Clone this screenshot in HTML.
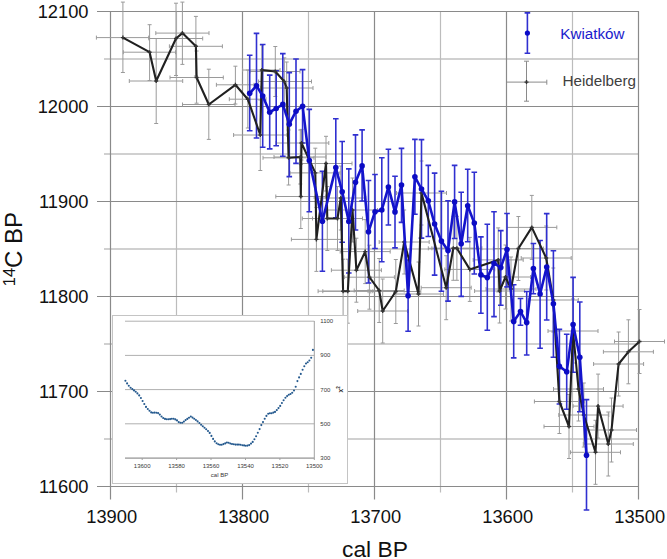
<!DOCTYPE html>
<html><head><meta charset="utf-8"><style>
html,body{margin:0;padding:0;background:#fff;}
body{width:667px;height:559px;overflow:hidden;position:relative;}
svg{position:absolute;left:0;top:0;}
text{font-family:"Liberation Sans",sans-serif;}
.tl{font-size:18.3px;fill:#111;}
.il{font-size:6px;fill:#383838;}
</style></head><body>
<svg width="667" height="559" viewBox="0 0 667 559">
<line x1="104" y1="59.0" x2="638.5" y2="59.0" stroke="#d0d0d0" stroke-width="2"/><line x1="104" y1="154.0" x2="638.5" y2="154.0" stroke="#d0d0d0" stroke-width="2"/><line x1="104" y1="249.0" x2="638.5" y2="249.0" stroke="#d0d0d0" stroke-width="2"/><line x1="104" y1="344.0" x2="638.5" y2="344.0" stroke="#d0d0d0" stroke-width="2"/><line x1="104" y1="439.0" x2="638.5" y2="439.0" stroke="#d0d0d0" stroke-width="2"/><line x1="176.5" y1="11" x2="176.5" y2="492.5" stroke="#bcbcbc" stroke-width="1.2"/><line x1="308.5" y1="11" x2="308.5" y2="492.5" stroke="#bcbcbc" stroke-width="1.2"/><line x1="440.5" y1="11" x2="440.5" y2="492.5" stroke="#bcbcbc" stroke-width="1.2"/><line x1="572.5" y1="11" x2="572.5" y2="492.5" stroke="#bcbcbc" stroke-width="1.2"/><line x1="97" y1="11.5" x2="638.5" y2="11.5" stroke="#8a8a8a" stroke-width="1.2"/><line x1="97" y1="106.5" x2="638.5" y2="106.5" stroke="#8a8a8a" stroke-width="1.2"/><line x1="97" y1="201.5" x2="638.5" y2="201.5" stroke="#8a8a8a" stroke-width="1.2"/><line x1="97" y1="296.5" x2="638.5" y2="296.5" stroke="#8a8a8a" stroke-width="1.2"/><line x1="97" y1="391.5" x2="638.5" y2="391.5" stroke="#8a8a8a" stroke-width="1.2"/><line x1="97" y1="486.5" x2="638.5" y2="486.5" stroke="#8a8a8a" stroke-width="1.2"/><line x1="110.5" y1="11" x2="110.5" y2="499.5" stroke="#8a8a8a" stroke-width="1.2"/><line x1="242.5" y1="11" x2="242.5" y2="499.5" stroke="#8a8a8a" stroke-width="1.2"/><line x1="374.5" y1="11" x2="374.5" y2="499.5" stroke="#8a8a8a" stroke-width="1.2"/><line x1="506.5" y1="11" x2="506.5" y2="499.5" stroke="#8a8a8a" stroke-width="1.2"/><line x1="638.5" y1="11" x2="638.5" y2="499.5" stroke="#8a8a8a" stroke-width="1.2"/><text x="88.5" y="17.5" text-anchor="end" class="tl">12100</text><text x="88.5" y="112.5" text-anchor="end" class="tl">12000</text><text x="88.5" y="207.5" text-anchor="end" class="tl">11900</text><text x="88.5" y="302.5" text-anchor="end" class="tl">11800</text><text x="88.5" y="397.5" text-anchor="end" class="tl">11700</text><text x="88.5" y="492.5" text-anchor="end" class="tl">11600</text><text x="111.7" y="523.3" text-anchor="middle" class="tl">13900</text><text x="243.7" y="523.3" text-anchor="middle" class="tl">13800</text><text x="375.7" y="523.3" text-anchor="middle" class="tl">13700</text><text x="507.7" y="523.3" text-anchor="middle" class="tl">13600</text><text x="639.7" y="523.3" text-anchor="middle" class="tl">13500</text><path d="M122.9 2.1V72.5M120.9 2.1h4M120.9 72.5h4M96.4 37.6H148.7M96.4 35.6v4M148.7 35.6v4M149.6 24.7V80.5M147.6 24.7h4M147.6 80.5h4M123.3 52.2H175.5M123.3 50.2v4M175.5 50.2v4M156.2 38.5V123.5M154.2 38.5h4M154.2 123.5h4M129.3 81.0H182.7M129.3 79.0v4M182.7 79.0v4M176.0 3.2V75.5M174.0 3.2h4M174.0 75.5h4M149.0 38.5H202.7M149.0 36.5v4M202.7 36.5v4M182.4 2.1V64.4M180.4 2.1h4M180.4 64.4h4M155.8 33.1H209.0M155.8 31.1v4M209.0 31.1v4M195.9 16.4V76.0M193.9 16.4h4M193.9 76.0h4M169.4 46.3H222.4M169.4 44.3v4M222.4 44.3v4M196.6 51.0V103.2M194.6 51.0h4M194.6 103.2h4M170.0 77.5H223.3M170.0 75.5v4M223.3 75.5v4M208.8 69.2V139.4M206.8 69.2h4M206.8 139.4h4M182.5 104.5H235.0M182.5 102.5v4M235.0 102.5v4M235.4 66.2V104.0M233.4 66.2h4M233.4 104.0h4M216.4 84.8H254.0M216.4 82.8v4M254.0 82.8v4M247.8 70.0V128.0M245.8 70.0h4M245.8 128.0h4M229.3 99.2H266.0M229.3 97.2v4M266.0 97.2v4M260.3 100.0V170.5M258.3 100.0h4M258.3 170.5h4M233.6 135.0H287.0M233.6 133.0v4M287.0 133.0v4M261.8 45.0V95.0M259.8 45.0h4M259.8 95.0h4M242.6 70.0H280.0M242.6 68.0v4M280.0 68.0v4M275.3 46.5V96.5M273.3 46.5h4M273.3 96.5h4M250.0 71.5H300.0M250.0 69.5v4M300.0 69.5v4M284.3 57.9V106.0M282.3 57.9h4M282.3 106.0h4M258.6 81.5H311.5M258.6 79.5v4M311.5 79.5v4M286.7 62.0V114.0M284.7 62.0h4M284.7 114.0h4M261.0 88.0H313.0M261.0 86.0v4M313.0 86.0v4M288.6 130.0V185.0M286.6 130.0h4M286.6 185.0h4M263.0 157.8H314.0M263.0 155.8v4M314.0 155.8v4M300.3 130.0V184.0M298.3 130.0h4M298.3 184.0h4M274.0 157.0H326.0M274.0 155.0v4M326.0 155.0v4M300.8 164.5V228.5M298.8 164.5h4M298.8 228.5h4M275.8 196.5H325.8M275.8 194.5v4M325.8 194.5v4M301.5 129.4V160.0M299.5 129.4h4M299.5 160.0h4M276.0 143.0H328.8M276.0 141.0v4M328.8 141.0v4M315.3 148.2V198.0M313.3 148.2h4M313.3 198.0h4M290.0 172.9H340.0M290.0 170.9v4M340.0 170.9v4M316.4 207.4V271.4M314.4 207.4h4M314.4 271.4h4M291.4 239.4H341.4M291.4 237.4v4M341.4 237.4v4M326.0 136.3V191.0M324.0 136.3h4M324.0 191.0h4M300.0 163.5H352.0M300.0 161.5v4M352.0 161.5v4M327.3 186.5V250.5M325.3 186.5h4M325.3 250.5h4M302.3 218.5H352.3M302.3 216.5v4M352.3 216.5v4M337.5 186.5V250.5M335.5 186.5h4M335.5 250.5h4M312.5 218.5H362.5M312.5 216.5v4M362.5 216.5v4M340.8 166.0V230.0M338.8 166.0h4M338.8 230.0h4M315.8 198.0H365.8M315.8 196.0v4M365.8 196.0v4M343.1 259.2V323.2M341.1 259.2h4M341.1 323.2h4M318.1 291.2H368.1M318.1 289.2v4M368.1 289.2v4M347.8 259.2V323.2M345.8 259.2h4M345.8 323.2h4M322.8 291.2H372.8M322.8 289.2v4M372.8 289.2v4M352.5 178.0V242.0M350.5 178.0h4M350.5 242.0h4M327.5 210.0H377.5M327.5 208.0v4M377.5 208.0v4M356.4 238.2V302.2M354.4 238.2h4M354.4 302.2h4M331.4 270.2H381.4M331.4 268.2v4M381.4 268.2v4M365.2 219.6V283.6M363.2 219.6h4M363.2 283.6h4M340.2 251.6H390.2M340.2 249.6v4M390.2 249.6v4M369.4 245.2V309.2M367.4 245.2h4M367.4 309.2h4M344.4 277.2H394.4M344.4 275.2v4M394.4 275.2v4M379.2 258.5V322.5M377.2 258.5h4M377.2 322.5h4M354.2 290.5H404.2M354.2 288.5v4M404.2 288.5v4M382.7 279.0V343.0M380.7 279.0h4M380.7 343.0h4M357.7 311.0H407.7M357.7 309.0v4M407.7 309.0v4M395.8 259.5V323.5M393.8 259.5h4M393.8 323.5h4M370.8 291.5H420.8M370.8 289.5v4M420.8 289.5v4M404.2 210.0V274.0M402.2 210.0h4M402.2 274.0h4M379.2 242.0H429.2M379.2 240.0v4M429.2 240.0v4M418.5 262.0V326.0M416.5 262.0h4M416.5 326.0h4M393.5 294.0H443.5M393.5 292.0v4M443.5 292.0v4M421.5 161.0V225.0M419.5 161.0h4M419.5 225.0h4M396.5 193.0H446.5M396.5 191.0v4M446.5 191.0v4M446.2 255.7V319.7M444.2 255.7h4M444.2 319.7h4M421.2 287.7H471.2M421.2 285.7v4M471.2 285.7v4M453.3 216.3V280.3M451.3 216.3h4M451.3 280.3h4M428.3 248.3H478.3M428.3 246.3v4M478.3 246.3v4M456.9 216.3V280.3M454.9 216.3h4M454.9 280.3h4M431.9 248.3H481.9M431.9 246.3v4M481.9 246.3v4M469.8 237.4V301.4M467.8 237.4h4M467.8 301.4h4M444.8 269.4H494.8M444.8 267.4v4M494.8 267.4v4M498.2 227.9V291.9M496.2 227.9h4M496.2 291.9h4M473.2 259.9H523.2M473.2 257.9v4M523.2 257.9v4M499.6 259.0V323.0M497.6 259.0h4M497.6 323.0h4M474.6 291.0H524.6M474.6 289.0v4M524.6 289.0v4M505.5 245.0V309.0M503.5 245.0h4M503.5 309.0h4M480.5 277.0H530.5M480.5 275.0v4M530.5 275.0v4M511.0 257.0V321.0M509.0 257.0h4M509.0 321.0h4M486.0 289.0H536.0M486.0 287.0v4M536.0 287.0v4M518.4 216.5V280.5M516.4 216.5h4M516.4 280.5h4M493.4 248.5H543.4M493.4 246.5v4M543.4 246.5v4M531.8 195.4V259.4M529.8 195.4h4M529.8 259.4h4M506.8 227.4H556.8M506.8 225.4v4M556.8 225.4v4M546.2 226.0V290.0M544.2 226.0h4M544.2 290.0h4M521.2 258.0H571.2M521.2 256.0v4M571.2 256.0v4M553.3 268.0V332.0M551.3 268.0h4M551.3 332.0h4M528.3 300.0H578.3M528.3 298.0v4M578.3 298.0v4M559.4 369.5V433.5M557.4 369.5h4M557.4 433.5h4M534.4 401.5H584.4M534.4 399.5v4M584.4 399.5v4M569.0 394.5V458.5M567.0 394.5h4M567.0 458.5h4M544.0 426.5H594.0M544.0 424.5v4M594.0 424.5v4M573.0 299.0V363.0M571.0 299.0h4M571.0 363.0h4M548.0 331.0H598.0M548.0 329.0v4M598.0 329.0v4M578.5 357.0V421.0M576.5 357.0h4M576.5 421.0h4M553.5 389.0H603.5M553.5 387.0v4M603.5 387.0v4M583.8 383.0V447.0M581.8 383.0h4M581.8 447.0h4M558.8 415.0H608.8M558.8 413.0v4M608.8 413.0v4M595.5 420.3V484.3M593.5 420.3h4M593.5 484.3h4M570.5 452.3H620.5M570.5 450.3v4M620.5 450.3v4M598.1 374.1V438.1M596.1 374.1h4M596.1 438.1h4M573.1 406.1H623.1M573.1 404.1v4M623.1 404.1v4M608.3 412.0V476.0M606.3 412.0h4M606.3 476.0h4M583.3 444.0H633.3M583.3 442.0v4M633.3 442.0v4M611.5 398.0V462.0M609.5 398.0h4M609.5 462.0h4M586.5 430.0H636.5M586.5 428.0v4M636.5 428.0v4M618.6 332.0V396.0M616.6 332.0h4M616.6 396.0h4M593.6 364.0H643.6M593.6 362.0v4M643.6 362.0v4M628.4 319.8V383.8M626.4 319.8h4M626.4 383.8h4M603.4 351.8H653.4M603.4 349.8v4M653.4 349.8v4M639.5 309.5V373.5M637.5 309.5h4M637.5 373.5h4M614.5 341.5H664.5M614.5 339.5v4M664.5 339.5v4" stroke="#9a9a9a" stroke-width="1" fill="none"/><path d="M249.7 55.2V130.7M246.9 55.2h5.6M246.9 130.7h5.6M256.5 33.4V138.0M253.7 33.4h5.6M253.7 138.0h5.6M262.7 44.5V147.2M259.9 44.5h5.6M259.9 147.2h5.6M269.7 75.1V148.9M266.9 75.1h5.6M266.9 148.9h5.6M276.2 70.8V145.7M273.4 70.8h5.6M273.4 145.7h5.6M282.8 53.6V156.2M280.0 53.6h5.6M280.0 156.2h5.6M289.3 72.6V176.6M286.5 72.6h5.6M286.5 176.6h5.6M296.0 59.0V163.4M293.2 59.0h5.6M293.2 163.4h5.6M302.6 69.6V143.0M299.8 69.6h5.6M299.8 143.0h5.6M309.3 109.4V211.7M306.5 109.4h5.6M306.5 211.7h5.6M322.4 171.2V271.2M319.6 171.2h5.6M319.6 271.2h5.6M335.8 118.8V217.9M333.0 118.8h5.6M333.0 217.9h5.6M342.2 141.5V242.3M339.4 141.5h5.6M339.4 242.3h5.6M348.8 168.9V273.0M346.0 168.9h5.6M346.0 273.0h5.6M355.5 134.9V230.0M352.7 134.9h5.6M352.7 230.0h5.6M362.1 129.9V201.0M359.3 129.9h5.6M359.3 201.0h5.6M368.5 180.5V283.0M365.7 180.5h5.6M365.7 283.0h5.6M375.0 174.5V248.5M372.2 174.5h5.6M372.2 248.5h5.6M381.8 157.8V261.7M379.0 157.8h5.6M379.0 261.7h5.6M388.4 149.3V225.0M385.6 149.3h5.6M385.6 225.0h5.6M395.0 176.3V247.9M392.2 176.3h5.6M392.2 247.9h5.6M401.5 148.4V222.4M398.7 148.4h5.6M398.7 222.4h5.6M408.1 260.0V331.2M405.3 260.0h5.6M405.3 331.2h5.6M414.9 139.4V214.3M412.1 139.4h5.6M412.1 214.3h5.6M421.5 139.6V238.1M418.7 139.6h5.6M418.7 238.1h5.6M428.3 165.4V236.5M425.5 165.4h5.6M425.5 236.5h5.6M434.6 173.1V275.1M431.8 173.1h5.6M431.8 275.1h5.6M441.4 191.3V291.2M438.6 191.3h5.6M438.6 291.2h5.6M448.0 200.8V301.1M445.2 200.8h5.6M445.2 301.1h5.6M454.6 165.4V238.5M451.8 165.4h5.6M451.8 238.5h5.6M461.2 192.2V296.4M458.4 192.2h5.6M458.4 296.4h5.6M467.7 169.2V241.7M464.9 169.2h5.6M464.9 241.7h5.6M474.3 172.2V274.0M471.5 172.2h5.6M471.5 274.0h5.6M480.9 236.9V313.3M478.1 236.9h5.6M478.1 313.3h5.6M487.3 224.2V330.3M484.5 224.2h5.6M484.5 330.3h5.6M494.0 211.8V316.6M491.2 211.8h5.6M491.2 316.6h5.6M500.8 230.6V305.3M498.0 230.6h5.6M498.0 305.3h5.6M507.0 213.5V286.9M504.2 213.5h5.6M504.2 286.9h5.6M513.7 284.7V357.9M510.9 284.7h5.6M510.9 357.9h5.6M520.5 298.5V325.3M517.7 298.5h5.6M517.7 325.3h5.6M526.7 291.5V355.0M523.9 291.5h5.6M523.9 355.0h5.6M533.4 243.5V293.7M530.6 243.5h5.6M530.6 293.7h5.6M540.1 240.5V348.2M537.3 240.5h5.6M537.3 348.2h5.6M546.7 213.6V320.0M543.9 213.6h5.6M543.9 320.0h5.6M553.4 250.7V357.2M550.6 250.7h5.6M550.6 357.2h5.6M559.4 329.4V404.0M556.6 329.4h5.6M556.6 404.0h5.6M566.7 334.2V409.3M563.9 334.2h5.6M563.9 409.3h5.6M573.1 277.4V372.2M570.3 277.4h5.6M570.3 372.2h5.6M579.8 302.0V411.8M577.0 302.0h5.6M577.0 411.8h5.6M586.5 399.6V510.0M583.7 399.6h5.6M583.7 510.0h5.6" stroke="#3030d0" stroke-width="1.6" fill="none"/><polyline points="122.9,37.6 149.6,52.2 156.2,81.0 176.0,38.5 182.4,33.1 195.9,46.3 196.6,77.5 208.8,104.5 235.4,84.8 247.8,99.2 260.3,135.0 261.8,70.0 275.3,71.5 284.3,81.5 286.7,88.0 288.6,157.8 300.3,157.0 300.8,196.5 301.5,143.0 315.3,172.9 316.4,239.4 326.0,163.5 327.3,218.5 337.5,218.5 340.8,198.0 343.1,291.2 347.8,291.2 352.5,210.0 356.4,270.2 365.2,251.6 369.4,277.2 379.2,290.5 382.7,311.0 395.8,291.5 404.2,242.0 418.5,294.0 421.5,193.0 446.2,287.7 453.3,248.3 456.9,248.3 469.8,269.4 498.2,259.9 499.6,291.0 505.5,277.0 511.0,289.0 518.4,248.5 531.8,227.4 546.2,258.0 553.3,300.0 559.4,401.5 569.0,426.5 573.0,331.0 578.5,389.0 583.8,415.0 595.5,452.3 598.1,406.1 608.3,444.0 611.5,430.0 618.6,364.0 628.4,351.8 639.5,341.5" stroke="#202020" stroke-width="2.1" fill="none" stroke-linejoin="round"/><path d="M120.9 37.6h4M122.9 35.6v4M147.6 52.2h4M149.6 50.2v4M154.2 81.0h4M156.2 79.0v4M174.0 38.5h4M176.0 36.5v4M180.4 33.1h4M182.4 31.1v4M193.9 46.3h4M195.9 44.3v4M194.6 77.5h4M196.6 75.5v4M206.8 104.5h4M208.8 102.5v4M233.4 84.8h4M235.4 82.8v4M245.8 99.2h4M247.8 97.2v4M258.3 135.0h4M260.3 133.0v4M259.8 70.0h4M261.8 68.0v4M273.3 71.5h4M275.3 69.5v4M282.3 81.5h4M284.3 79.5v4M284.7 88.0h4M286.7 86.0v4M286.6 157.8h4M288.6 155.8v4M298.3 157.0h4M300.3 155.0v4M298.8 196.5h4M300.8 194.5v4M299.5 143.0h4M301.5 141.0v4M313.3 172.9h4M315.3 170.9v4M314.4 239.4h4M316.4 237.4v4M324.0 163.5h4M326.0 161.5v4M325.3 218.5h4M327.3 216.5v4M335.5 218.5h4M337.5 216.5v4M338.8 198.0h4M340.8 196.0v4M341.1 291.2h4M343.1 289.2v4M345.8 291.2h4M347.8 289.2v4M350.5 210.0h4M352.5 208.0v4M354.4 270.2h4M356.4 268.2v4M363.2 251.6h4M365.2 249.6v4M367.4 277.2h4M369.4 275.2v4M377.2 290.5h4M379.2 288.5v4M380.7 311.0h4M382.7 309.0v4M393.8 291.5h4M395.8 289.5v4M402.2 242.0h4M404.2 240.0v4M416.5 294.0h4M418.5 292.0v4M419.5 193.0h4M421.5 191.0v4M444.2 287.7h4M446.2 285.7v4M451.3 248.3h4M453.3 246.3v4M454.9 248.3h4M456.9 246.3v4M467.8 269.4h4M469.8 267.4v4M496.2 259.9h4M498.2 257.9v4M497.6 291.0h4M499.6 289.0v4M503.5 277.0h4M505.5 275.0v4M509.0 289.0h4M511.0 287.0v4M516.4 248.5h4M518.4 246.5v4M529.8 227.4h4M531.8 225.4v4M544.2 258.0h4M546.2 256.0v4M551.3 300.0h4M553.3 298.0v4M557.4 401.5h4M559.4 399.5v4M567.0 426.5h4M569.0 424.5v4M571.0 331.0h4M573.0 329.0v4M576.5 389.0h4M578.5 387.0v4M581.8 415.0h4M583.8 413.0v4M593.5 452.3h4M595.5 450.3v4M596.1 406.1h4M598.1 404.1v4M606.3 444.0h4M608.3 442.0v4M609.5 430.0h4M611.5 428.0v4M616.6 364.0h4M618.6 362.0v4M626.4 351.8h4M628.4 349.8v4M637.5 341.5h4M639.5 339.5v4" stroke="#333" stroke-width="1.4"/><polyline points="249.7,93.3 256.5,85.7 262.7,96.0 269.7,112.2 276.2,108.5 282.8,104.4 289.3,124.2 296.0,111.2 302.6,106.2 309.3,160.6 322.4,221.2 335.8,167.6 342.2,191.7 348.8,221.5 355.5,182.2 362.1,165.9 368.5,231.8 375.0,211.7 381.8,210.0 388.4,187.1 395.0,211.9 401.5,185.1 408.1,295.7 414.9,176.8 421.5,189.0 428.3,200.8 434.6,224.0 441.4,241.1 448.0,250.6 454.6,201.9 461.2,243.8 467.7,205.8 474.3,223.1 480.9,274.8 487.3,277.6 494.0,263.2 500.8,267.6 507.0,249.5 513.7,321.4 520.5,311.6 526.7,322.6 533.4,268.6 540.1,294.0 546.7,267.0 553.4,303.7 559.4,366.2 566.7,371.8 573.1,324.6 579.8,357.2 586.5,455.3" stroke="#1414cc" stroke-width="2.6" fill="none" stroke-linejoin="round"/><circle cx="249.7" cy="93.3" r="2.8" fill="#0c0cc4"/><circle cx="256.5" cy="85.7" r="2.8" fill="#0c0cc4"/><circle cx="262.7" cy="96.0" r="2.8" fill="#0c0cc4"/><circle cx="269.7" cy="112.2" r="2.8" fill="#0c0cc4"/><circle cx="276.2" cy="108.5" r="2.8" fill="#0c0cc4"/><circle cx="282.8" cy="104.4" r="2.8" fill="#0c0cc4"/><circle cx="289.3" cy="124.2" r="2.8" fill="#0c0cc4"/><circle cx="296.0" cy="111.2" r="2.8" fill="#0c0cc4"/><circle cx="302.6" cy="106.2" r="2.8" fill="#0c0cc4"/><circle cx="309.3" cy="160.6" r="2.8" fill="#0c0cc4"/><circle cx="322.4" cy="221.2" r="2.8" fill="#0c0cc4"/><circle cx="335.8" cy="167.6" r="2.8" fill="#0c0cc4"/><circle cx="342.2" cy="191.7" r="2.8" fill="#0c0cc4"/><circle cx="348.8" cy="221.5" r="2.8" fill="#0c0cc4"/><circle cx="355.5" cy="182.2" r="2.8" fill="#0c0cc4"/><circle cx="362.1" cy="165.9" r="2.8" fill="#0c0cc4"/><circle cx="368.5" cy="231.8" r="2.8" fill="#0c0cc4"/><circle cx="375.0" cy="211.7" r="2.8" fill="#0c0cc4"/><circle cx="381.8" cy="210.0" r="2.8" fill="#0c0cc4"/><circle cx="388.4" cy="187.1" r="2.8" fill="#0c0cc4"/><circle cx="395.0" cy="211.9" r="2.8" fill="#0c0cc4"/><circle cx="401.5" cy="185.1" r="2.8" fill="#0c0cc4"/><circle cx="408.1" cy="295.7" r="2.8" fill="#0c0cc4"/><circle cx="414.9" cy="176.8" r="2.8" fill="#0c0cc4"/><circle cx="421.5" cy="189.0" r="2.8" fill="#0c0cc4"/><circle cx="428.3" cy="200.8" r="2.8" fill="#0c0cc4"/><circle cx="434.6" cy="224.0" r="2.8" fill="#0c0cc4"/><circle cx="441.4" cy="241.1" r="2.8" fill="#0c0cc4"/><circle cx="448.0" cy="250.6" r="2.8" fill="#0c0cc4"/><circle cx="454.6" cy="201.9" r="2.8" fill="#0c0cc4"/><circle cx="461.2" cy="243.8" r="2.8" fill="#0c0cc4"/><circle cx="467.7" cy="205.8" r="2.8" fill="#0c0cc4"/><circle cx="474.3" cy="223.1" r="2.8" fill="#0c0cc4"/><circle cx="480.9" cy="274.8" r="2.8" fill="#0c0cc4"/><circle cx="487.3" cy="277.6" r="2.8" fill="#0c0cc4"/><circle cx="494.0" cy="263.2" r="2.8" fill="#0c0cc4"/><circle cx="500.8" cy="267.6" r="2.8" fill="#0c0cc4"/><circle cx="507.0" cy="249.5" r="2.8" fill="#0c0cc4"/><circle cx="513.7" cy="321.4" r="2.8" fill="#0c0cc4"/><circle cx="520.5" cy="311.6" r="2.8" fill="#0c0cc4"/><circle cx="526.7" cy="322.6" r="2.8" fill="#0c0cc4"/><circle cx="533.4" cy="268.6" r="2.8" fill="#0c0cc4"/><circle cx="540.1" cy="294.0" r="2.8" fill="#0c0cc4"/><circle cx="546.7" cy="267.0" r="2.8" fill="#0c0cc4"/><circle cx="553.4" cy="303.7" r="2.8" fill="#0c0cc4"/><circle cx="559.4" cy="366.2" r="2.8" fill="#0c0cc4"/><circle cx="566.7" cy="371.8" r="2.8" fill="#0c0cc4"/><circle cx="573.1" cy="324.6" r="2.8" fill="#0c0cc4"/><circle cx="579.8" cy="357.2" r="2.8" fill="#0c0cc4"/><circle cx="586.5" cy="455.3" r="2.8" fill="#0c0cc4"/>
<rect x="112.5" y="315.5" width="235" height="168" fill="#fff" stroke="#c4c4c4" stroke-width="1"/><line x1="125" y1="321.2" x2="314.3" y2="321.2" stroke="#b0b0b0" stroke-width="1"/><line x1="125" y1="355.4" x2="314.3" y2="355.4" stroke="#b0b0b0" stroke-width="1"/><line x1="125" y1="389.6" x2="314.3" y2="389.6" stroke="#b0b0b0" stroke-width="1"/><line x1="125" y1="423.8" x2="314.3" y2="423.8" stroke="#b0b0b0" stroke-width="1"/><line x1="125" y1="458.0" x2="314.3" y2="458.0" stroke="#b0b0b0" stroke-width="1"/><line x1="314.3" y1="321" x2="314.3" y2="458" stroke="#a0a0a0" stroke-width="1"/><line x1="125" y1="458.2" x2="314.3" y2="458.2" stroke="#a0a0a0" stroke-width="1"/><text x="320.3" y="323.2" class="il">1100</text><text x="320.3" y="357.4" class="il">900</text><text x="320.3" y="391.6" class="il">700</text><text x="320.3" y="425.8" class="il">500</text><text x="320.3" y="460.0" class="il">300</text><line x1="142.2" y1="458" x2="142.2" y2="460" stroke="#a0a0a0" stroke-width="1"/><text x="142.2" y="468.2" text-anchor="middle" class="il">13600</text><line x1="176.6" y1="458" x2="176.6" y2="460" stroke="#a0a0a0" stroke-width="1"/><text x="176.6" y="468.2" text-anchor="middle" class="il">13580</text><line x1="211.0" y1="458" x2="211.0" y2="460" stroke="#a0a0a0" stroke-width="1"/><text x="211.0" y="468.2" text-anchor="middle" class="il">13560</text><line x1="245.5" y1="458" x2="245.5" y2="460" stroke="#a0a0a0" stroke-width="1"/><text x="245.5" y="468.2" text-anchor="middle" class="il">13540</text><line x1="279.9" y1="458" x2="279.9" y2="460" stroke="#a0a0a0" stroke-width="1"/><text x="279.9" y="468.2" text-anchor="middle" class="il">13520</text><line x1="314.3" y1="458" x2="314.3" y2="460" stroke="#a0a0a0" stroke-width="1"/><text x="314.3" y="468.2" text-anchor="middle" class="il">13500</text><text x="219.5" y="477.3" text-anchor="middle" class="il">cal BP</text><text transform="translate(341.9,392.4) rotate(-90)" style="font-size:6.2px;fill:#222;font-weight:bold">χ<tspan style="font-size:4.6px" dy="-2.2">2</tspan></text><circle fill="#24598e" cx="125.4" cy="380.8" r="1.05"/><circle fill="#24598e" cx="127.1" cy="383.4" r="1.05"/><circle fill="#24598e" cx="128.8" cy="385.7" r="1.05"/><circle fill="#24598e" cx="130.6" cy="387.7" r="1.05"/><circle fill="#24598e" cx="132.3" cy="389.1" r="1.05"/><circle fill="#24598e" cx="134.0" cy="390.4" r="1.05"/><circle fill="#24598e" cx="135.7" cy="391.8" r="1.05"/><circle fill="#24598e" cx="137.4" cy="393.4" r="1.05"/><circle fill="#24598e" cx="139.2" cy="395.4" r="1.05"/><circle fill="#24598e" cx="140.9" cy="398.0" r="1.05"/><circle fill="#24598e" cx="142.6" cy="401.0" r="1.05"/><circle fill="#24598e" cx="144.3" cy="404.0" r="1.05"/><circle fill="#24598e" cx="146.0" cy="406.9" r="1.05"/><circle fill="#24598e" cx="147.8" cy="409.0" r="1.05"/><circle fill="#24598e" cx="149.5" cy="410.8" r="1.05"/><circle fill="#24598e" cx="151.2" cy="412.4" r="1.05"/><circle fill="#24598e" cx="152.9" cy="412.8" r="1.05"/><circle fill="#24598e" cx="154.6" cy="412.6" r="1.05"/><circle fill="#24598e" cx="156.4" cy="412.8" r="1.05"/><circle fill="#24598e" cx="158.1" cy="413.1" r="1.05"/><circle fill="#24598e" cx="159.8" cy="414.6" r="1.05"/><circle fill="#24598e" cx="161.5" cy="416.5" r="1.05"/><circle fill="#24598e" cx="163.2" cy="418.0" r="1.05"/><circle fill="#24598e" cx="165.0" cy="418.9" r="1.05"/><circle fill="#24598e" cx="166.7" cy="419.2" r="1.05"/><circle fill="#24598e" cx="168.4" cy="419.2" r="1.05"/><circle fill="#24598e" cx="170.1" cy="419.1" r="1.05"/><circle fill="#24598e" cx="171.8" cy="418.8" r="1.05"/><circle fill="#24598e" cx="173.6" cy="418.7" r="1.05"/><circle fill="#24598e" cx="175.3" cy="419.4" r="1.05"/><circle fill="#24598e" cx="177.0" cy="420.4" r="1.05"/><circle fill="#24598e" cx="178.7" cy="422.1" r="1.05"/><circle fill="#24598e" cx="180.4" cy="422.8" r="1.05"/><circle fill="#24598e" cx="182.2" cy="422.8" r="1.05"/><circle fill="#24598e" cx="183.9" cy="421.6" r="1.05"/><circle fill="#24598e" cx="185.6" cy="420.1" r="1.05"/><circle fill="#24598e" cx="187.3" cy="418.9" r="1.05"/><circle fill="#24598e" cx="189.0" cy="417.7" r="1.05"/><circle fill="#24598e" cx="190.8" cy="416.5" r="1.05"/><circle fill="#24598e" cx="192.5" cy="417.6" r="1.05"/><circle fill="#24598e" cx="194.2" cy="418.7" r="1.05"/><circle fill="#24598e" cx="195.9" cy="420.0" r="1.05"/><circle fill="#24598e" cx="197.6" cy="421.4" r="1.05"/><circle fill="#24598e" cx="199.4" cy="423.0" r="1.05"/><circle fill="#24598e" cx="201.1" cy="424.7" r="1.05"/><circle fill="#24598e" cx="202.8" cy="426.3" r="1.05"/><circle fill="#24598e" cx="204.5" cy="427.7" r="1.05"/><circle fill="#24598e" cx="206.2" cy="429.2" r="1.05"/><circle fill="#24598e" cx="208.0" cy="431.0" r="1.05"/><circle fill="#24598e" cx="209.7" cy="432.9" r="1.05"/><circle fill="#24598e" cx="211.4" cy="435.9" r="1.05"/><circle fill="#24598e" cx="213.1" cy="438.9" r="1.05"/><circle fill="#24598e" cx="214.8" cy="441.4" r="1.05"/><circle fill="#24598e" cx="216.6" cy="443.2" r="1.05"/><circle fill="#24598e" cx="218.3" cy="444.2" r="1.05"/><circle fill="#24598e" cx="220.0" cy="444.7" r="1.05"/><circle fill="#24598e" cx="221.7" cy="444.7" r="1.05"/><circle fill="#24598e" cx="223.4" cy="444.1" r="1.05"/><circle fill="#24598e" cx="225.2" cy="443.4" r="1.05"/><circle fill="#24598e" cx="226.9" cy="442.5" r="1.05"/><circle fill="#24598e" cx="228.6" cy="442.7" r="1.05"/><circle fill="#24598e" cx="230.3" cy="443.5" r="1.05"/><circle fill="#24598e" cx="232.0" cy="444.0" r="1.05"/><circle fill="#24598e" cx="233.8" cy="444.3" r="1.05"/><circle fill="#24598e" cx="235.5" cy="444.6" r="1.05"/><circle fill="#24598e" cx="237.2" cy="444.6" r="1.05"/><circle fill="#24598e" cx="238.9" cy="444.6" r="1.05"/><circle fill="#24598e" cx="240.6" cy="444.8" r="1.05"/><circle fill="#24598e" cx="242.4" cy="445.2" r="1.05"/><circle fill="#24598e" cx="244.1" cy="445.4" r="1.05"/><circle fill="#24598e" cx="245.8" cy="445.7" r="1.05"/><circle fill="#24598e" cx="247.5" cy="445.6" r="1.05"/><circle fill="#24598e" cx="249.2" cy="445.1" r="1.05"/><circle fill="#24598e" cx="251.0" cy="443.6" r="1.05"/><circle fill="#24598e" cx="252.7" cy="441.9" r="1.05"/><circle fill="#24598e" cx="254.4" cy="439.3" r="1.05"/><circle fill="#24598e" cx="256.1" cy="436.2" r="1.05"/><circle fill="#24598e" cx="257.8" cy="432.7" r="1.05"/><circle fill="#24598e" cx="259.6" cy="429.1" r="1.05"/><circle fill="#24598e" cx="261.3" cy="425.1" r="1.05"/><circle fill="#24598e" cx="263.0" cy="422.1" r="1.05"/><circle fill="#24598e" cx="264.7" cy="418.8" r="1.05"/><circle fill="#24598e" cx="266.4" cy="415.9" r="1.05"/><circle fill="#24598e" cx="268.2" cy="413.8" r="1.05"/><circle fill="#24598e" cx="269.9" cy="413.2" r="1.05"/><circle fill="#24598e" cx="271.6" cy="413.2" r="1.05"/><circle fill="#24598e" cx="273.3" cy="412.6" r="1.05"/><circle fill="#24598e" cx="275.0" cy="411.9" r="1.05"/><circle fill="#24598e" cx="276.8" cy="410.1" r="1.05"/><circle fill="#24598e" cx="278.5" cy="408.1" r="1.05"/><circle fill="#24598e" cx="280.2" cy="405.9" r="1.05"/><circle fill="#24598e" cx="281.9" cy="403.0" r="1.05"/><circle fill="#24598e" cx="283.6" cy="400.3" r="1.05"/><circle fill="#24598e" cx="285.4" cy="397.7" r="1.05"/><circle fill="#24598e" cx="287.1" cy="396.1" r="1.05"/><circle fill="#24598e" cx="288.8" cy="394.8" r="1.05"/><circle fill="#24598e" cx="290.5" cy="394.0" r="1.05"/><circle fill="#24598e" cx="292.2" cy="392.7" r="1.05"/><circle fill="#24598e" cx="294.0" cy="390.5" r="1.05"/><circle fill="#24598e" cx="295.7" cy="386.8" r="1.05"/><circle fill="#24598e" cx="297.4" cy="381.1" r="1.05"/><circle fill="#24598e" cx="299.1" cy="377.4" r="1.05"/><circle fill="#24598e" cx="300.8" cy="373.9" r="1.05"/><circle fill="#24598e" cx="302.6" cy="369.7" r="1.05"/><circle fill="#24598e" cx="304.3" cy="366.2" r="1.05"/><circle fill="#24598e" cx="306.0" cy="363.5" r="1.05"/><circle fill="#24598e" cx="307.7" cy="362.2" r="1.05"/><circle fill="#24598e" cx="309.4" cy="360.5" r="1.05"/><circle fill="#24598e" cx="311.2" cy="357.7" r="1.05"/><circle fill="#24598e" cx="312.9" cy="349.9" r="1.05"/>
<text x="375" y="556.6" text-anchor="middle" style="font-size:22.8px;fill:#111">cal BP</text>
<text transform="translate(22.2,286.3) rotate(-90)" style="font-size:24px;fill:#111"><tspan style="font-size:16.5px" dy="-7.5">14</tspan><tspan dy="7.5">C BP</tspan></text>
<path d="M527.4 12.9V53.3M524.6 12.9h5.6M524.6 53.3h5.6" stroke="#3030d0" stroke-width="1.6" fill="none"/>
<circle cx="527.4" cy="33.1" r="2.6" fill="#0a0ac8"/>
<path d="M526.5 61.2V101.2M524 61.2h5M524 101.2h5M506.7 82.1H546.8M546.8 79.7v5" stroke="#8a8a8a" stroke-width="1" fill="none"/>
<path d="M524.5 82.1h4M526.5 80.1v4" stroke="#333" stroke-width="1.4"/>
<text x="560.3" y="38.7" style="font-size:15.2px;fill:#1a1acc">Kwiatków</text>
<text x="562.5" y="86" style="font-size:15.2px;fill:#404040">Heidelberg</text>
</svg>
</body></html>
